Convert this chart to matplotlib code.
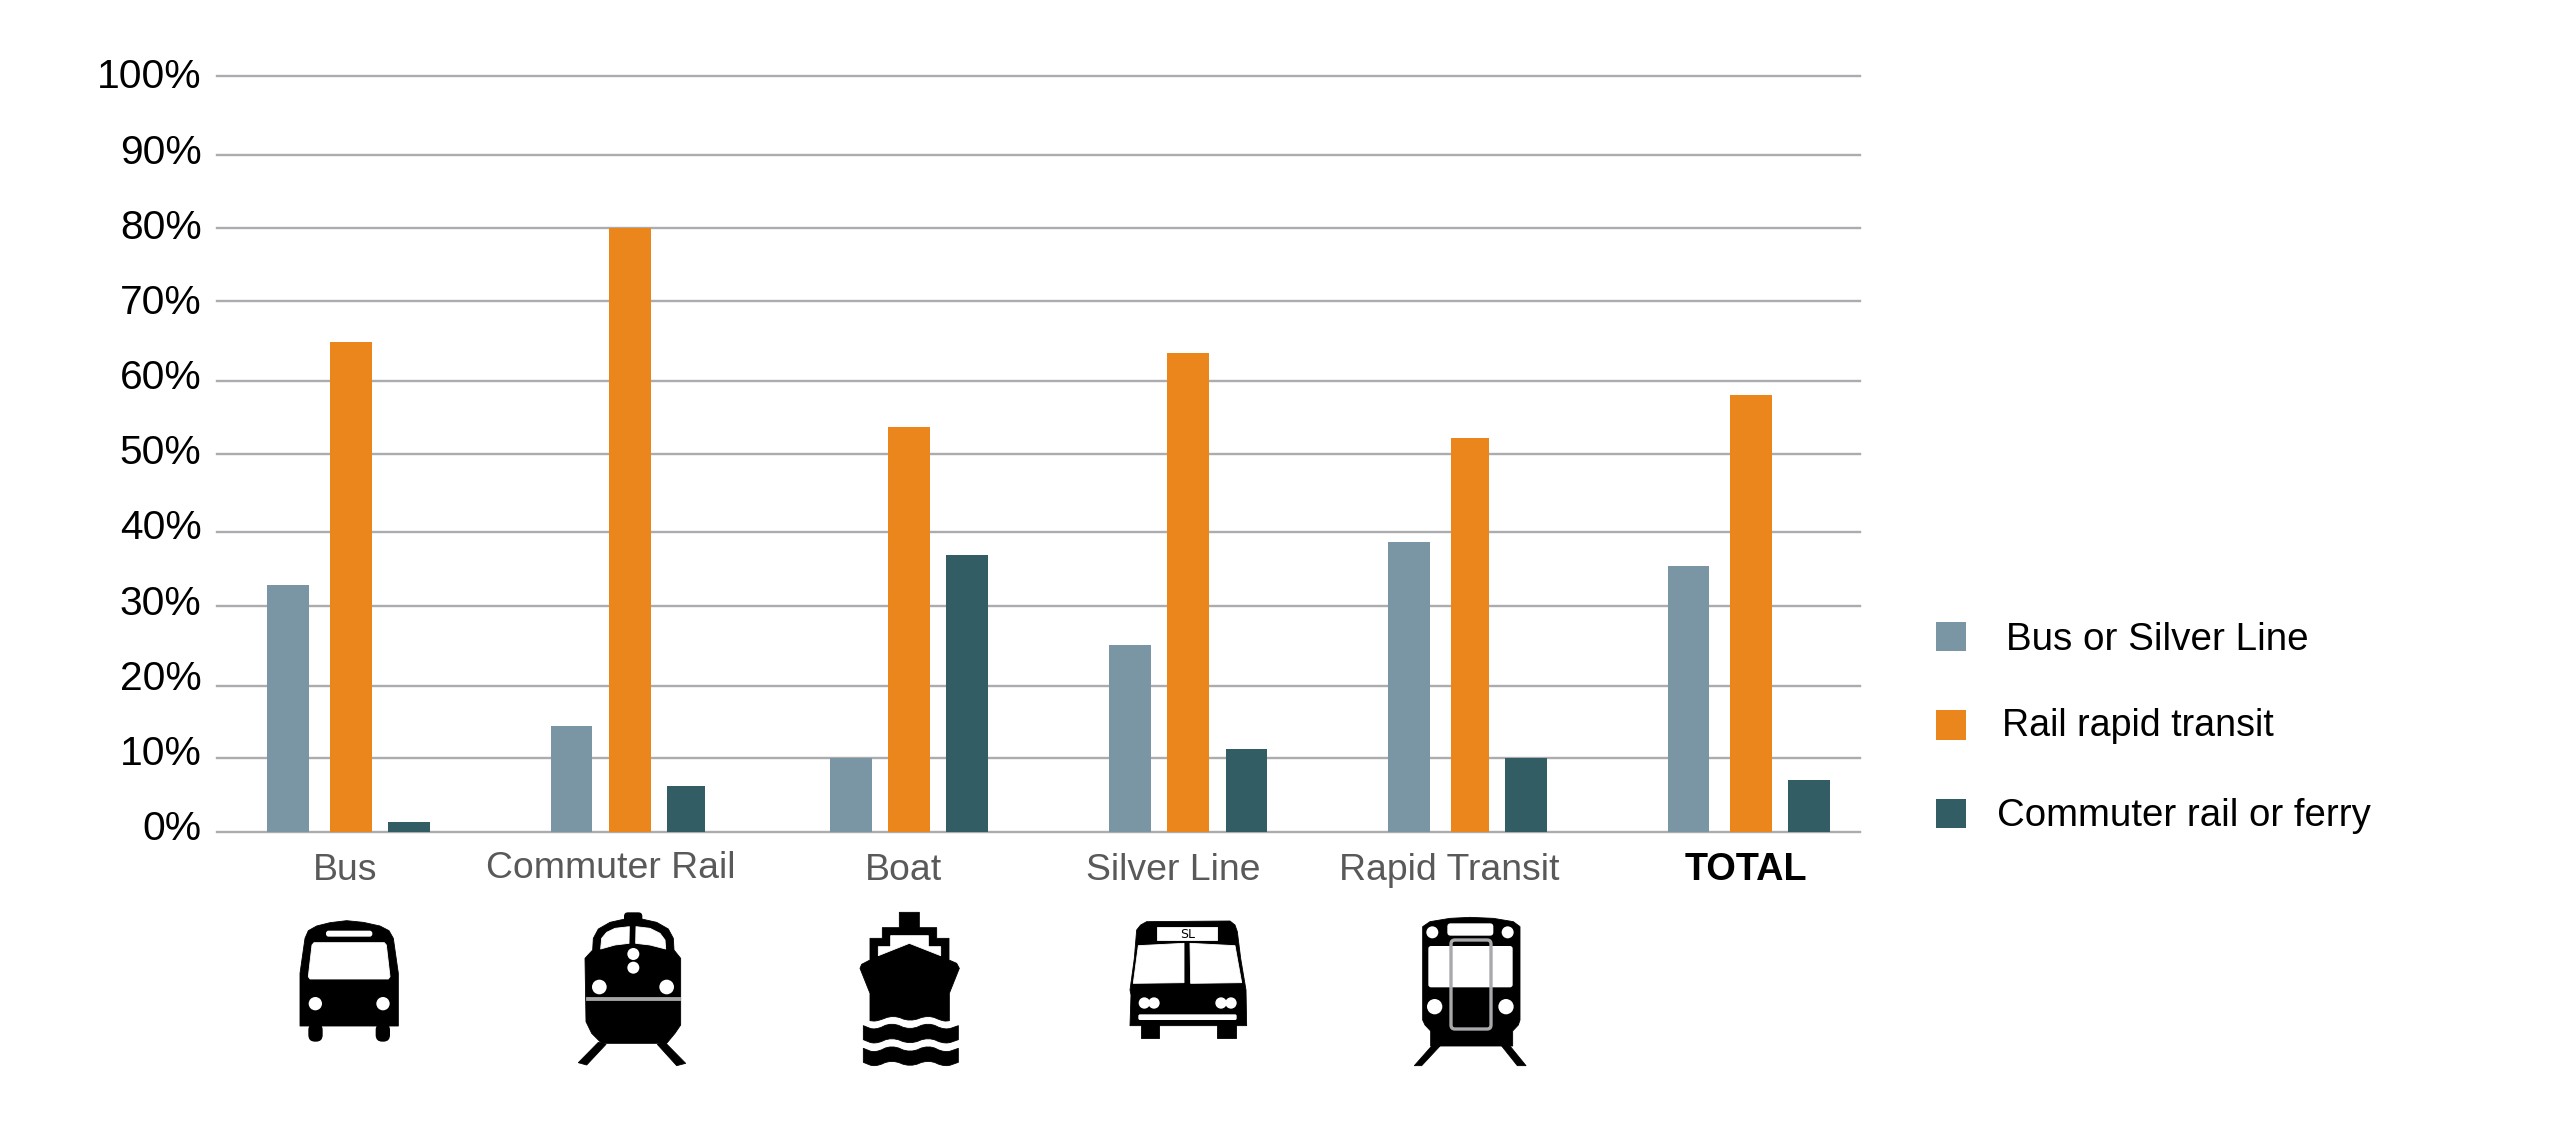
import matplotlib
matplotlib.use('Agg')
import matplotlib.pyplot as plt
import numpy as np
from matplotlib.patches import Polygon, Ellipse, FancyBboxPatch, Rectangle

plt.rcParams['font.family'] = ['Liberation Sans', 'DejaVu Sans']

W, H = 2551, 1123

categories = ['Bus', 'Commuter Rail', 'Boat', 'Silver Line', 'Rapid Transit', 'TOTAL']
bus_or_silver = [32.8, 14.5, 10.0, 25.1, 38.6, 35.4]
rail_rapid = [64.9, 80.0, 53.6, 63.5, 52.2, 58.0]
commuter_or_ferry = [1.3, 6.2, 36.9, 11.3, 10.0, 7.0]
percent_ticks = [0, 10, 20, 30, 40, 50, 60, 70, 80, 90, 100]
tick_labels = ['0%', '10%', '20%', '30%', '40%', '50%', '60%', '70%', '80%', '90%', '100%']
legend_labels = ['Bus or Silver Line', 'Rail rapid transit', 'Commuter rail or ferry']

# colours
BLUE = '#7a96a4'
ORANGE = '#ea861c'
TEAL = '#335d65'
GRID = '#ababb0'

# layout, all in pixels of the final image. the gridlines in the original are
# not quite evenly spaced so the value axis follows their measured rows
grid_rows = [831.7, 758.3, 685.7, 605.7, 532, 453.7, 380.7, 301, 227.7, 154.7, 76]
blue_left = [267.3, 550.7, 830, 1109, 1388.3, 1667.7]
orange_left = [330, 609, 888, 1167.5, 1451, 1730]
teal_left = [388.3, 667.3, 946.4, 1225.6, 1505, 1788.3]
blue_w = [41.7] * 6
orange_w = [41.7, 41.7, 41.7, 41.7, 37.7, 41.7]
teal_w = [41.7, 37.7, 41.7, 41.7, 41.7, 41.7]
label_x = [345.6, 611, 904, 1173.5, 1449.5, 1746]
label_base = [880, 878.5, 880, 880, 880, 880]

fig = plt.figure(figsize=(W / 100, H / 100), dpi=100, facecolor='white')
ax = fig.add_axes([217 / W, 1 - 831.7 / H, (1860 - 217) / W, (831.7 - 76) / H])

heights = 831.7 - np.array(grid_rows)


def to_rows(v):
    return np.interp(v, percent_ticks, heights)


def from_rows(v):
    return np.interp(v, heights, percent_ticks)


ax.set_yscale('function', functions=(to_rows, from_rows))
ax.set_xlim(217, 1860)
ax.set_ylim(0, 100)

ax.bar(blue_left, bus_or_silver, width=blue_w, align='edge', color=BLUE, zorder=3)
ax.bar(orange_left, rail_rapid, width=orange_w, align='edge', color=ORANGE, zorder=3)
ax.bar(teal_left, commuter_or_ferry, width=teal_w, align='edge', color=TEAL, zorder=3)

ax.set_yticks(percent_ticks)
ax.set_xticks([])
ax.tick_params(length=0, labelleft=False)
ax.grid(axis='y', color=GRID, lw=1.7, clip_on=False, zorder=1)
ax.set_axisbelow(True)
for s in ax.spines.values():
    s.set_visible(False)

# overlay in image pixels for labels, legend and the pictograms
ov = fig.add_axes([0, 0, 1, 1], zorder=5)
ov.set_xlim(0, W)
ov.set_ylim(H, 0)
ov.axis('off')

for i, lab in enumerate(tick_labels):
    ov.text(201.5, 840 - 75.15 * i, lab, ha='right', va='baseline', fontsize=29.3, color='black')

for name, x, y in zip(categories, label_x, label_base):
    if name == 'TOTAL':
        ov.text(x, y, name, ha='center', va='baseline', fontsize=27.3, fontweight='bold', color='black')
    else:
        ov.text(x, y, name, ha='center', va='baseline', fontsize=26.9, color='#595959')

for lab, col, top, tx, ty, fs in zip(legend_labels, [BLUE, ORANGE, TEAL],
                                     [621.7, 710, 798.7], [2005.5, 2001.5, 1997],
                                     [650.5, 736.5, 825.5], [27.8, 27.1, 27.6]):
    ov.add_patch(Rectangle((1936, top), 29.7, 29.7, color=col, lw=0))
    ov.text(tx, ty, lab, ha='left', va='baseline', fontsize=fs, color='black')


def chaikin(pts, n=2):
    pts = np.array(pts, dtype=float)
    for _ in range(n):
        q = pts[:-1] * .75 + pts[1:] * .25
        r = pts[:-1] * .25 + pts[1:] * .75
        mid = np.empty((len(q) * 2, 2))
        mid[0::2] = q
        mid[1::2] = r
        pts = np.vstack([pts[0], mid, pts[-1]])
    return pts


def poly(o, pts, color='black', z=6):
    xy = np.array(pts, dtype=float) / 3 + o
    ov.add_patch(Polygon(xy, closed=True, fc=color, ec=color, lw=0.6, joinstyle='round', zorder=z))


def dot(o, x, y, r, color='white', z=7, ry=None):
    ry = r if ry is None else ry
    ov.add_patch(Ellipse((o[0] + x / 3, o[1] + y / 3), 2 * r / 3, 2 * ry / 3, fc=color, lw=0, zorder=z))


def rrect(o, x0, y0, x1, y1, rad, color='white', z=7, edge=None, lw=0):
    ov.add_patch(FancyBboxPatch((o[0] + (x0 + rad) / 3, o[1] + (y0 + rad) / 3),
                                (x1 - x0 - 2 * rad) / 3, (y1 - y0 - 2 * rad) / 3,
                                boxstyle='round,pad=%f' % (rad / 3),
                                fc=color if edge is None else 'none',
                                ec=edge if edge else 'none', lw=lw, zorder=z))


# Bus
o = np.array([290, 915])
poly(o, [(30, 333), (30, 175), (45, 70), (55, 47), (80, 33), (120, 23), (170, 17), (220, 22),
         (270, 33), (297, 47), (310, 70), (325, 175), (325, 333)])
rrect(o, 55, 325, 98, 380, 20, 'black', 6)
rrect(o, 257, 325, 300, 380, 20, 'black', 6)
rrect(o, 108, 47, 247, 65, 8)
poly(o, [(72, 83), (283, 83), (289, 90), (300, 185), (295, 192), (60, 192), (55, 185), (66, 90)], 'white', 7)
dot(o, 76, 266, 20)
dot(o, 279, 266, 20)

# Commuter rail
o = np.array([570, 905])
rrect(o, 162, 22, 217, 55, 12, 'black', 6)
poly(o, [(68, 135), (70, 100), (85, 72), (120, 52), (165, 42), (215, 42), (260, 52), (295, 72),
         (310, 100), (312, 135), (332, 160), (332, 360), (315, 385), (290, 415), (95, 415),
         (65, 385), (48, 350), (45, 160)])
poly(o, [(92, 132), (95, 100), (110, 82), (135, 70), (178, 65), (177, 115), (135, 120)], 'white', 7)
poly(o, [(198, 65), (240, 70), (270, 85), (285, 105), (287, 132), (240, 120), (197, 115)], 'white', 7)
dot(o, 190, 147, 18)
dot(o, 190, 188, 18)
dot(o, 88, 246, 22)
dot(o, 290, 246, 22)
poly(o, [(47, 275), (331, 275), (331, 286), (47, 286)], '#a6a6a6', 7)
poly(o, [(85, 412), (108, 418), (50, 480), (25, 473)])
poly(o, [(262, 418), (285, 412), (347, 475), (320, 482)])

# Boat
o = np.array([850, 905])
hull_edge = chaikin([(298, 347), (280, 349), (235, 330), (180, 350), (130, 330), (80, 349), (60, 347)])
poly(o, [(148, 22), (208, 22), (208, 68), (260, 68), (260, 100), (297, 100), (297, 165), (320, 175),
         (328, 190), (298, 265)] + [tuple(p) for p in hull_edge] +
     [(60, 265), (30, 190), (35, 178), (60, 165), (60, 100), (97, 100), (97, 68), (148, 68)])
poly(o, [(85, 152), (85, 125), (122, 125), (122, 92), (235, 92), (235, 125), (272, 125), (272, 152),
         (178, 115)], 'white', 7)
for top in [0, 68]:
    up = chaikin([(40, 362 + top), (75, 376 + top), (125, 352 + top), (180, 376 + top),
                  (235, 352 + top), (285, 376 + top), (325, 362 + top)])
    low = chaikin([(325, 404 + top), (285, 418 + top), (235, 396 + top), (180, 418 + top),
                   (125, 396 + top), (75, 418 + top), (40, 404 + top)])
    poly(o, np.vstack([up, low]))

# Silver Line bus
o = np.array([1120, 915])
poly(o, [(50, 45), (62, 30), (80, 20), (330, 18), (345, 30), (352, 50), (362, 130), (378, 225),
         (380, 332), (30, 332), (33, 240), (30, 225), (43, 130)])
poly(o, [(62, 325), (118, 325), (118, 368), (62, 368)])
poly(o, [(292, 325), (348, 325), (348, 368), (292, 368)])
poly(o, [(112, 37), (290, 37), (290, 75), (112, 75)], 'white', 7)
ov.text(o[0] + 203 / 3, o[1] + 68 / 3, 'SL', ha='center', va='baseline', fontsize=9, color='black',
        zorder=8, family='DejaVu Sans')
poly(o, [(55, 92), (192, 85), (192, 203), (40, 205)], 'white', 7)
poly(o, [(210, 85), (345, 92), (365, 203), (212, 205)], 'white', 7)
for cx in [73, 102, 303, 333]:
    dot(o, cx, 264, 17)
rrect(o, 55, 298, 350, 315, 5)

# Rapid transit
o = np.array([1410, 905])
poly(o, [(38, 65), (60, 50), (120, 40), (180, 37), (250, 40), (310, 50), (330, 65), (330, 345),
         (325, 360), (308, 378), (308, 423), (62, 423), (62, 378), (45, 360), (38, 345)])
rrect(o, 112, 55, 250, 92, 10)
dot(o, 67, 82, 18)
dot(o, 293, 82, 18)
rrect(o, 55, 123, 308, 247, 8)
dot(o, 74, 305, 23)
dot(o, 288, 305, 23)
rrect(o, 123, 105, 243, 372, 12, z=8, edge='#a8a8ad', lw=2.4)
poly(o, [(65, 423), (90, 423), (35, 482), (13, 482)])
poly(o, [(275, 423), (300, 423), (348, 482), (322, 482)])

plt.savefig('out.png', dpi=100, facecolor='white')
